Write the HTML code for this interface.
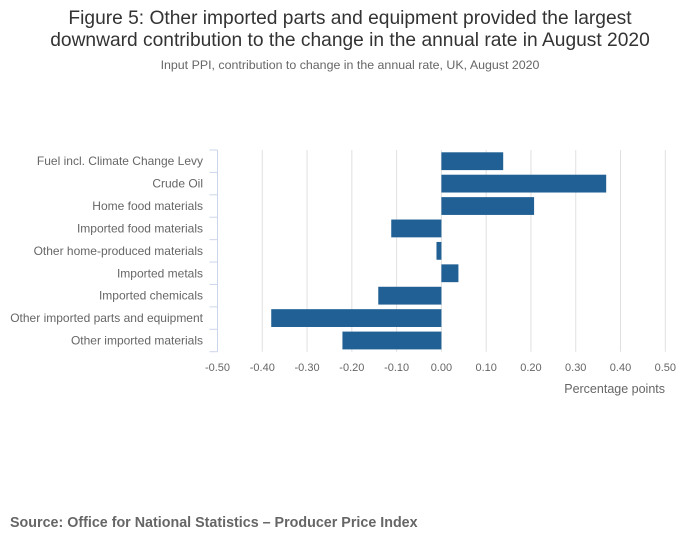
<!DOCTYPE html>
<html><head><meta charset="utf-8"><style>
body{margin:0;background:#fff;font-family:"Liberation Sans",sans-serif;}
#wrap{position:relative;width:700px;height:549px;overflow:hidden;}
</style></head><body>
<div id="wrap">
<svg id="chart" width="700" height="549" style="position:absolute;left:0;top:0">
<text x="350" y="24" text-anchor="middle" font-size="19.2" fill="#333">Figure 5: Other imported parts and equipment provided the largest</text>
<text x="350" y="46" text-anchor="middle" font-size="19.2" fill="#333">downward contribution to the change in the annual rate in August 2020</text>
<text x="350" y="69" text-anchor="middle" font-size="12.4" fill="#666">Input PPI, contribution to change in the annual rate, UK, August 2020</text>
<g id="grid"></g><g id="bars"></g><g id="axes"></g>
<text x="665" y="393" text-anchor="end" font-size="12.5" fill="#666">Percentage points</text>
<text x="10" y="527" font-size="14.3" font-weight="bold" fill="#666">Source: Office for National Statistics – Producer Price Index</text>
</svg>
</div>
<script>
const categories=["Fuel incl. Climate Change Levy","Crude Oil","Home food materials","Imported food materials","Other home-produced materials","Imported metals","Imported chemicals","Other imported parts and equipment","Other imported materials"];
const values=[0.138,0.368,0.207,-0.112,-0.011,0.038,-0.141,-0.38,-0.221];
const ticks=[-0.5,-0.4,-0.3,-0.2,-0.1,0,0.1,0.2,0.3,0.4,0.5];
const NS="http://www.w3.org/2000/svg";
const L=217.5,R=665.3,T=150,B=351.7;
const x=v=>L+(v+0.5)/1*(R-L);
const band=(B-T)/categories.length;
const y=i=>T+i*band;
function mk(t,a,p){const e=document.createElementNS(NS,t);for(const k in a)e.setAttribute(k,a[k]);p.appendChild(e);return e;}
const g=document.getElementById('grid'),bg=document.getElementById('bars'),ax=document.getElementById('axes');
ticks.forEach(t=>{
 if(t!==-0.5){const l=mk('line',{x1:x(t),x2:x(t),y1:T,y2:B,stroke:'#e0e0e0','stroke-width':1},g);
 
 }
 const tx=mk('text',{x:x(t),y:371,'text-anchor':'middle','font-size':11,fill:'#666'},ax);
 tx.textContent=t.toFixed(2);
 
 
});
const al=mk('line',{x1:L,x2:L,y1:T,y2:B,stroke:'#ccd6eb','stroke-width':1},ax);


for(let i=0;i<=categories.length;i++){const tk=mk('line',{x1:L-8,x2:L,y1:y(i),y2:y(i),stroke:'#ccd6eb','stroke-width':1},ax);
 
 }
categories.forEach((c,i)=>{
 const v=values[i];
 const r=mk('rect',{x:Math.min(x(0),x(v)),y:y(i)+2.3,width:Math.abs(x(v)-x(0)),height:band-4.6,fill:'#206095'},bg);
 
 
 const tx=mk('text',{x:203,y:y(i)+band/2+4,'text-anchor':'end','font-size':12,fill:'#666'},ax);
 tx.textContent=c;
 
 
});
</script>
</body></html>
